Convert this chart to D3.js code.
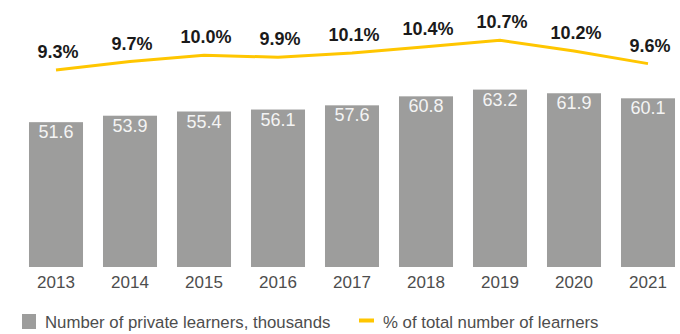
<!DOCTYPE html>
<html>
<head>
<meta charset="utf-8">
<script src="https://cdn.jsdelivr.net/npm/d3@7"></script>
<style>
  html, body { margin: 0; padding: 0; background: #fff; }
  svg { display: block; font-family: "Liberation Sans", Arial, Helvetica, sans-serif; }
</style>
</head>
<body>
<svg id="chart" width="680" height="334"></svg>
<script>
// Private learners by year
const years = ["2013", "2014", "2015", "2016", "2017", "2018", "2019", "2020", "2021"];
const learners = [51.6, 53.9, 55.4, 56.1, 57.6, 60.8, 63.2, 61.9, 60.1];      // thousands
const shareOfTotal = [9.3, 9.7, 10.0, 9.9, 10.1, 10.4, 10.7, 10.2, 9.6];     // % of all learners
const legendLabels = ["Number of private learners, thousands", "% of total number of learners"];

const barColor = "#9d9d9c";
const lineColor = "#ffc600";

const svg = d3.select("#chart");
const baseY = 267;

const x = d3.scaleBand()
  .domain(years)
  .range([19, 685])
  .paddingInner(0.27)
  .paddingOuter(0.135);

const yBar = d3.scaleLinear().domain([0, 88]).range([baseY, 20]);
const yPct = d3.scaleLinear().domain([0, 11.66]).range([baseY, 20]);

// bars
svg.append("g").selectAll("rect")
  .data(years)
  .join("rect")
  .attr("x", d => x(d))
  .attr("y", (d, i) => yBar(learners[i]))
  .attr("width", x.bandwidth())
  .attr("height", (d, i) => baseY - yBar(learners[i]))
  .attr("fill", barColor);

// values inside bars
svg.append("g").selectAll("text")
  .data(years)
  .join("text")
  .attr("x", d => x(d) + x.bandwidth() / 2)
  .attr("y", (d, i) => yBar(learners[i]) + 16)
  .attr("text-anchor", "middle")
  .attr("fill", "#f4f4f4")
  .attr("font-size", 18)
  .text((d, i) => learners[i].toFixed(1));

// share line
const line = d3.line()
  .x((d, i) => x(years[i]) + x.bandwidth() / 2)
  .y(d => yPct(d));

svg.append("path")
  .datum(shareOfTotal)
  .attr("d", line)
  .attr("fill", "none")
  .attr("stroke", lineColor)
  .attr("stroke-width", 3);

svg.append("g").selectAll("text")
  .data(shareOfTotal)
  .join("text")
  .attr("x", (d, i) => x(years[i]) + x.bandwidth() / 2 + 2)
  .attr("y", d => yPct(d) - 12)
  .attr("text-anchor", "middle")
  .attr("fill", "#1a1a1a")
  .attr("font-size", 18)
  .attr("font-weight", "bold")
  .text(d => d.toFixed(1) + "%");

// year axis
const xAxis = svg.append("g")
  .attr("transform", `translate(0,${baseY})`)
  .call(d3.axisBottom(x).tickSize(0).tickPadding(9));
xAxis.select(".domain").remove();
xAxis.selectAll("text")
  .attr("font-family", "Liberation Sans, Arial, sans-serif")
  .attr("font-size", 17)
  .attr("fill", "#4d4d4d");

// legend
const legend = svg.append("g").attr("font-size", 16.8).attr("fill", "#4d4d4d");
legend.append("rect")
  .attr("x", 22).attr("y", 314).attr("width", 14).attr("height", 15)
  .attr("fill", barColor);
legend.append("text").attr("x", 45).attr("y", 328).text(legendLabels[0]);
legend.append("rect")
  .attr("x", 359).attr("y", 318.5).attr("width", 15).attr("height", 4)
  .attr("fill", lineColor);
legend.append("text").attr("x", 383).attr("y", 328).text(legendLabels[1]);
</script>
</body>
</html>
